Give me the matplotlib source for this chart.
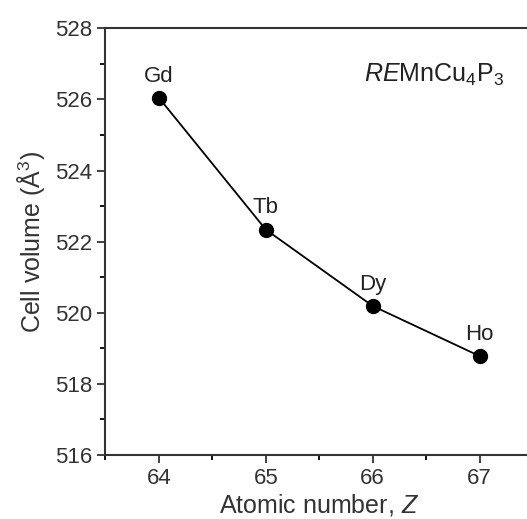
import matplotlib
matplotlib.use("Agg")
import matplotlib.pyplot as plt
from matplotlib.ticker import MultipleLocator

plt.rcParams['font.family'] = ['Liberation Sans', 'DejaVu Sans']
plt.rcParams['mathtext.fontset'] = 'custom'
plt.rcParams['mathtext.rm'] = 'Liberation Sans'
plt.rcParams['mathtext.it'] = 'Liberation Sans:italic'

# atomic number vs cell volume for REMnCu4P3
elements = ["Gd", "Tb", "Dy", "Ho"]
z_numbers = [64, 65, 66, 67]
volumes = [526.05, 522.34, 520.19, 518.78]

fig = plt.figure(figsize=(5.27, 5.19), dpi=100)
ax = fig.add_axes([0.1998, 0.1233, 0.812, 0.8222])

ax.plot(z_numbers, volumes, color="black", lw=1.3, marker="o", ms=10, mfc="black", mec="black")
for el, z, v in zip(elements, z_numbers, volumes):
    ax.annotate(el, (z, v), xytext=(0, 8), textcoords="offset points",
                ha="center", va="bottom", fontsize=16, color="#222222")

ax.text(0.605, 0.875, r"$\mathit{RE}\mathrm{MnCu_4P_3}$", transform=ax.transAxes,
        fontsize=18, color="#222222")

ax.set_xlim(63.5, 67.5)
ax.set_ylim(516, 528)
ax.xaxis.set_major_locator(MultipleLocator(1))
ax.xaxis.set_minor_locator(MultipleLocator(0.5))
ax.yaxis.set_major_locator(MultipleLocator(2))
ax.yaxis.set_minor_locator(MultipleLocator(1))
ax.tick_params(which="major", direction="out", length=6, width=1.3, labelsize=16, colors="#333333")
ax.tick_params(which="minor", direction="out", length=3.5, width=1.3)
ax.tick_params(axis="x", which="both", top=False)
ax.tick_params(axis="y", which="both", right=False)
for s in ax.spines.values():
    s.set_linewidth(1.5)
    s.set_color("#333333")

ax.set_xlabel(r"Atomic number, $Z$", fontsize=18, color="#333333", labelpad=2)
ax.set_ylabel(r"Cell volume ($\mathrm{\AA}^3$)", fontsize=18, color="#333333", labelpad=6)

fig.savefig("out.png", dpi=100)
